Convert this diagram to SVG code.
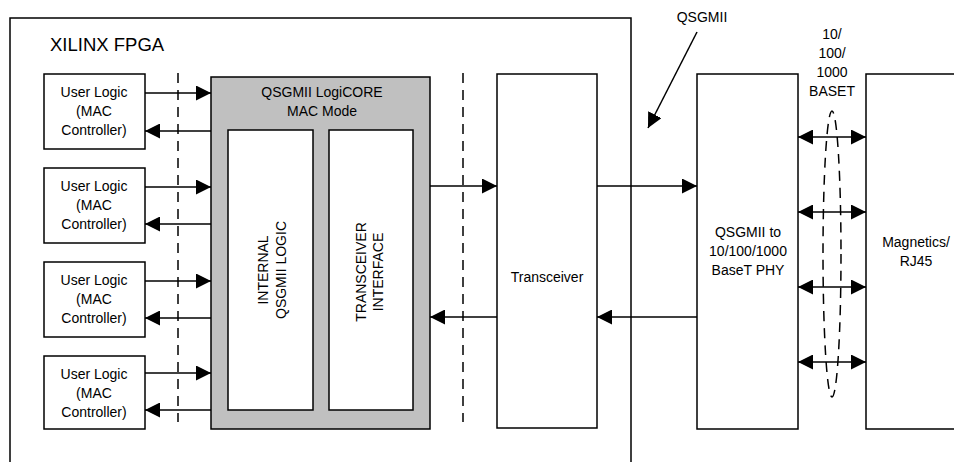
<svg xmlns="http://www.w3.org/2000/svg" width="954" height="462" viewBox="0 0 954 462">
<style>
.box{fill:#fff;stroke:#000;stroke-width:1.5}
.gray{fill:#c0c0c0;stroke:#000;stroke-width:1.5}
.ln{fill:none;stroke:#000;stroke-width:1.5}
.dash{fill:none;stroke:#000;stroke-width:1.5;stroke-dasharray:10 7}
text{font-family:"Liberation Sans",Arial,sans-serif;font-size:14px;fill:#000;text-anchor:middle}
</style>
<defs>
<marker id="ah" markerWidth="15" markerHeight="15" viewBox="0 0 15 15" refX="15" refY="7.5" orient="auto" markerUnits="userSpaceOnUse">
<path d="M0,0 L15,7.5 L0,15 Z" fill="#000"/>
</marker>
<marker id="as" markerWidth="15" markerHeight="15" viewBox="0 0 15 15" refX="0" refY="7.5" orient="auto" markerUnits="userSpaceOnUse">
<path d="M15,0 L0,7.5 L15,15 Z" fill="#000"/>
</marker>
</defs>
<rect width="954" height="462" fill="#fff"/>
<g id="fpga">
<path class="ln" d="M10,462 V18 H631 V462"/>
<text x="50" y="51" style="font-size:18.5px;text-anchor:start">XILINX FPGA</text>
</g>
<g id="user1"><rect class="box" x="44" y="74" width="101" height="75"/><text x="94" y="97">User Logic</text><text x="94" y="116">(MAC</text><text x="94" y="135">Controller)</text></g>
<g id="user2"><rect class="box" x="44" y="168" width="101" height="75"/><text x="94" y="191">User Logic</text><text x="94" y="210">(MAC</text><text x="94" y="229">Controller)</text></g>
<g id="user3"><rect class="box" x="44" y="262" width="101" height="75"/><text x="94" y="285">User Logic</text><text x="94" y="304">(MAC</text><text x="94" y="323">Controller)</text></g>
<g id="user4"><rect class="box" x="44" y="356" width="101" height="73"/><text x="94" y="379">User Logic</text><text x="94" y="398">(MAC</text><text x="94" y="417">Controller)</text></g>
<g id="qsgmii-core">
<rect class="gray" x="211" y="77" width="219" height="352"/>
<text x="322" y="97">QSGMII LogiCORE</text>
<text x="322" y="116">MAC Mode</text>
</g>
<g id="internal-logic">
<rect class="box" x="228" y="130" width="85" height="280"/>
<text transform="translate(268,270) rotate(-90)">INTERNAL</text>
<text transform="translate(286,270) rotate(-90)">QSGMII LOGIC</text>
</g>
<g id="transceiver-interface">
<rect class="box" x="329" y="130" width="84" height="280"/>
<text transform="translate(366,272) rotate(-90)">TRANSCEIVER</text>
<text transform="translate(383,272) rotate(-90)">INTERFACE</text>
</g>
<g id="transceiver">
<rect class="box" x="497" y="74" width="100" height="354"/>
<text x="547" y="282">Transceiver</text>
</g>
<g id="phy">
<rect class="box" x="697" y="74" width="101" height="355"/>
<text x="748" y="237">QSGMII to</text>
<text x="748" y="256">10/100/1000</text>
<text x="748" y="275">BaseT PHY</text>
</g>
<g id="magnetics">
<path class="box" d="M956,74 H866 V429 H956"/>
<text x="916" y="247">Magnetics/</text>
<text x="916" y="266">RJ45</text>
</g>
<g id="labels">
<text x="702" y="22">QSGMII</text>
<text x="832" y="39">10/</text>
<text x="832" y="58">100/</text>
<text x="832" y="77">1000</text>
<text x="832" y="96">BASET</text>
</g>
<g id="connectors">
<line class="dash" x1="178" y1="73" x2="178" y2="422"/>
<line class="dash" x1="463" y1="73" x2="463" y2="422"/>
<line class="ln" x1="145" y1="93" x2="211" y2="93" marker-end="url(#ah)"/>
<line class="ln" x1="211" y1="131" x2="145" y2="131" marker-end="url(#ah)"/>
<line class="ln" x1="145" y1="187" x2="211" y2="187" marker-end="url(#ah)"/>
<line class="ln" x1="211" y1="224" x2="145" y2="224" marker-end="url(#ah)"/>
<line class="ln" x1="145" y1="281" x2="211" y2="281" marker-end="url(#ah)"/>
<line class="ln" x1="211" y1="318" x2="145" y2="318" marker-end="url(#ah)"/>
<line class="ln" x1="145" y1="373" x2="211" y2="373" marker-end="url(#ah)"/>
<line class="ln" x1="211" y1="410" x2="145" y2="410" marker-end="url(#ah)"/>
<line class="ln" x1="430" y1="186" x2="497" y2="186" marker-end="url(#ah)"/>
<line class="ln" x1="497" y1="317" x2="430" y2="317" marker-end="url(#ah)"/>
<line class="ln" x1="597" y1="186" x2="697" y2="186" marker-end="url(#ah)"/>
<line class="ln" x1="697" y1="317" x2="597" y2="317" marker-end="url(#ah)"/>
<line class="ln" x1="697" y1="32" x2="648" y2="128" marker-end="url(#ah)"/>
<line class="ln" x1="798" y1="137" x2="866" y2="137" marker-start="url(#as)" marker-end="url(#ah)"/>
<line class="ln" x1="798" y1="212" x2="866" y2="212" marker-start="url(#as)" marker-end="url(#ah)"/>
<line class="ln" x1="798" y1="287" x2="866" y2="287" marker-start="url(#as)" marker-end="url(#ah)"/>
<line class="ln" x1="798" y1="362" x2="866" y2="362" marker-start="url(#as)" marker-end="url(#ah)"/>
<ellipse class="dash" cx="832" cy="254" rx="9" ry="143"/>
</g>
</svg>
